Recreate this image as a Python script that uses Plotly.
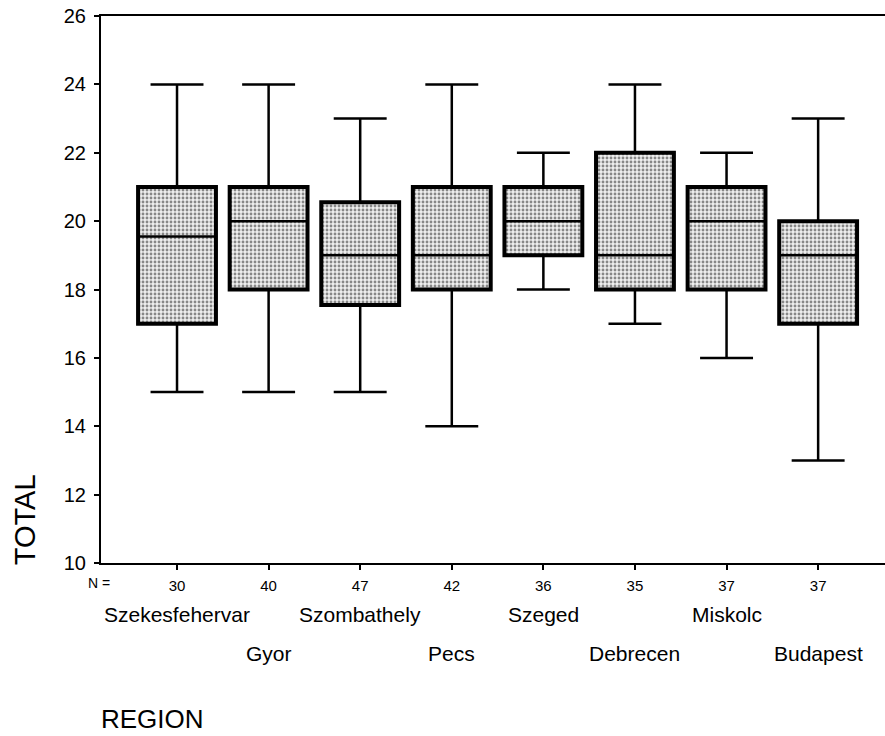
import plotly.graph_objects as go

regions = ["Szekesfehervar", "Gyor", "Szombathely", "Pecs", "Szeged", "Debrecen", "Miskolc", "Budapest"]
n_values = [30, 40, 47, 42, 36, 35, 37, 37]
minimum = [15, 15, 15, 14, 18, 17, 16, 13]
q1 = [17, 18, 17.55, 18, 19, 18, 18, 17]
median = [19.55, 20, 19, 19, 20, 19, 20, 19]
q3 = [21, 21, 20.55, 21, 21, 22, 21, 20]
maximum = [24, 24, 23, 24, 22, 24, 22, 23]
y_ticks = [10, 12, 14, 16, 18, 20, 22, 24, 26]

FONT = "Arial, Liberation Sans, sans-serif"

fig = go.Figure()

# stippled fill of the boxes (with thick border)
fig.add_trace(go.Bar(
    x=regions,
    y=[b - a for a, b in zip(q1, q3)],
    base=q1,
    width=0.85,
    marker=dict(
        color="#ffffff",
        line=dict(width=4, color="#000000"),
        pattern=dict(shape=".", fgcolor="#202020", bgcolor="#eeeeee", size=4, solidity=0.4),
    ),
    hoverinfo="skip",
    showlegend=False,
))

fig.add_trace(go.Box(
    x=regions,
    q1=q1,
    median=median,
    q3=q3,
    lowerfence=minimum,
    upperfence=maximum,
    width=0.85,
    whiskerwidth=0.68,
    fillcolor="rgba(0,0,0,0)",
    line=dict(color="#000000", width=2.5),
    showlegend=False,
))

fig.update_layout(
    width=885,
    height=736,
    margin=dict(l=101, r=0, t=16, b=173),
    paper_bgcolor="white",
    plot_bgcolor="white",
    font=dict(family=FONT, color="black"),
    barmode="overlay",
    xaxis=dict(
        type="category",
        categoryorder="array",
        categoryarray=regions,
        range=[-0.83, 7.73],
        showline=True,
        linecolor="black",
        linewidth=2,
        mirror=True,
        showgrid=False,
        zeroline=False,
        ticks="outside",
        ticklen=5,
        tickwidth=2,
        tickcolor="black",
        tickvals=regions,
        ticktext=[str(n) for n in n_values],
        tickfont=dict(size=15, family=FONT, color="black"),
        ticklabelstandoff=3,
    ),
    yaxis=dict(
        range=[10, 26],
        tickvals=y_ticks,
        ticktext=[str(v) for v in y_ticks],
        showline=True,
        linecolor="black",
        linewidth=2,
        showgrid=False,
        zeroline=False,
        ticks="outside",
        ticklen=5,
        tickwidth=2,
        tickcolor="black",
        tickfont=dict(size=20, family=FONT, color="black"),
        ticklabelstandoff=4,
    ),
)

annotations = []
for i, name in enumerate(regions):
    annotations.append(dict(
        x=name, xref="x",
        y=-0.095 if i % 2 == 0 else -0.165, yref="paper",
        text=name, showarrow=False,
        xanchor="center", yanchor="middle",
        font=dict(size=21, family=FONT, color="black"),
    ))
annotations.append(dict(
    x=-0.002, xref="paper", y=-0.037, yref="paper",
    text="N =", showarrow=False, xanchor="center", yanchor="middle",
    font=dict(size=14, family=FONT, color="black"),
))
annotations.append(dict(
    x=-0.097, xref="paper", y=0.080, yref="paper",
    text="TOTAL", showarrow=False, textangle=-90,
    xanchor="center", yanchor="middle",
    font=dict(size=29, family=FONT, color="black"),
))
annotations.append(dict(
    x=-0.003, xref="paper", y=-0.285, yref="paper",
    text="REGION", showarrow=False, xanchor="left", yanchor="middle",
    font=dict(size=26, family=FONT, color="black"),
))
fig.update_layout(annotations=annotations)

fig.write_html(
    "out.html",
    config={"displayModeBar": False},
    post_script="document.body.style.margin='0';document.body.style.overflow='hidden';",
)
